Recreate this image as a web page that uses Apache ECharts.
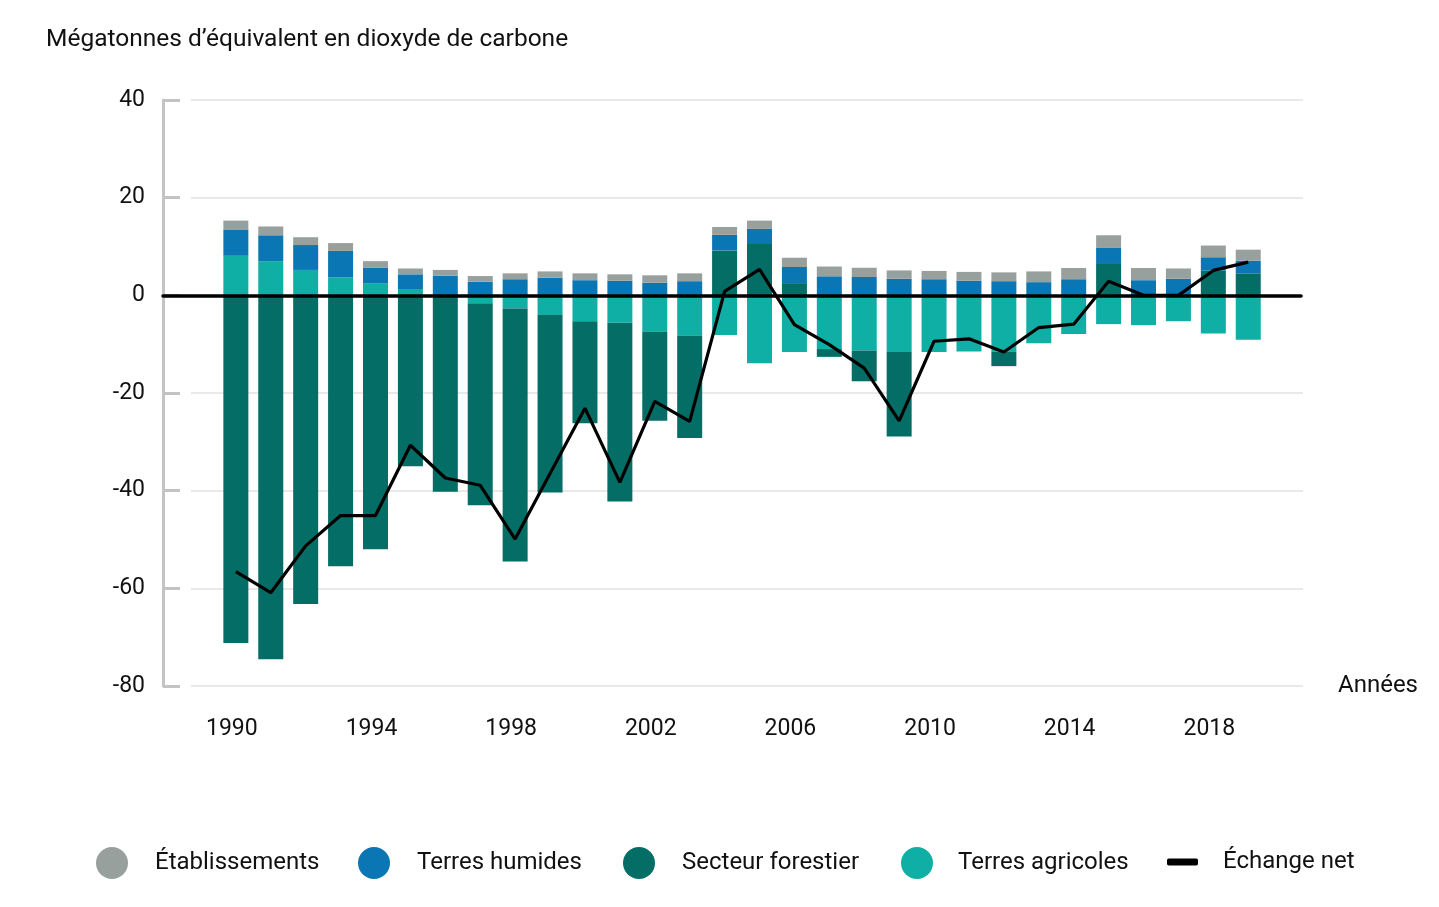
<!DOCTYPE html>
<html><head><meta charset="utf-8">
<script src="https://cdn.jsdelivr.net/npm/echarts@6/dist/echarts.min.js"></script>
<style>html,body{margin:0;padding:0;background:#fff}#c{width:1439px;height:907px}</style>
</head><body><div id="c"></div>
<script>
const years = ['1990','1991','1992','1993','1994','1995','1996','1997','1998','1999','2000','2001','2002','2003','2004','2005','2006','2007','2008','2009','2010','2011','2012','2013','2014','2015','2016','2017','2018','2019'];
const agri   = [8.1,7.0,5.2,3.7,2.4,1.3,0,-1.6,-2.7,-4.0,-5.3,-5.6,-7.4,-8.2,-8.1,-13.9,-11.6,-11.0,-11.3,-11.6,-11.6,-11.5,-11.5,-9.8,-7.9,-5.9,-6.1,-5.3,-7.8,-9.1];
const forest = [-71.2,-74.5,-63.2,-55.5,-52.0,-35.0,-40.2,-41.4,-51.8,-36.4,-20.9,-36.6,-18.3,-21.0,9.2,10.5,2.5,-1.6,-6.3,-17.3,0,0,-3.0,0,0,6.6,0,0,5.1,4.5];
const wet    = [5.4,5.3,5.1,5.4,3.3,3.0,4.0,2.8,3.3,3.6,3.1,3.0,2.6,2.9,3.2,3.1,3.3,3.9,3.75,3.4,3.3,3.0,2.9,2.7,3.3,3.1,3.1,3.4,2.7,2.6];
const settle = [1.8,1.8,1.6,1.6,1.3,1.2,1.2,1.15,1.2,1.3,1.4,1.3,1.5,1.6,1.6,1.7,1.9,2.0,1.9,1.7,1.7,1.8,1.8,2.2,2.3,2.6,2.5,2.1,2.4,2.25];
const net    = [-56.6,-60.9,-51.3,-45.1,-45.1,-30.7,-37.4,-38.9,-49.9,-36.5,-23.1,-38.3,-21.7,-25.8,0.8,5.3,-6.0,-10.1,-14.9,-25.7,-9.4,-8.9,-11.6,-6.6,-5.9,2.9,0,0,5.1,6.8];
const yTicks = {min:-80, max:40, interval:20};

const FONT = 'Roboto';
const TXT = '#111';
const COL = {settle:'#98a09d', wet:'#0a76b3', forest:'#036d66', agri:'#10afa6', net:'#000'};
const NAMES = {settle:'Établissements', wet:'Terres humides', forest:'Secteur forestier', agri:'Terres agricoles', net:'Échange net'};

const chart = echarts.init(document.getElementById('c'));
const gTop = 100, gBottom = 221;
function legend(name, left, icon, w, h, pad){
  return {data:[name], left:left, top: 842, icon:icon, itemWidth:w, itemHeight:h, selectedMode:false,
    textStyle:{fontFamily:FONT, fontSize:24, color:TXT, padding:[0,0,0,pad], lineHeight:30}};
}
chart.setOption({
  animation:false,
  title:{text:'Mégatonnes d’équivalent en dioxyde de carbone', left:41, top:22,
    textStyle:{fontFamily:FONT, fontSize:24.5, fontWeight:'normal', color:TXT}},
  legend:[
    legend(NAMES.settle, 91, 'circle', 32, 32, 22),
    legend(NAMES.wet, 353, 'circle', 32, 32, 22),
    legend(NAMES.forest, 618, 'circle', 32, 32, 22),
    legend(NAMES.agri, 896, 'circle', 32, 32, 20),
    legend(NAMES.net, 1162, 'roundRect', 31, 7, 20)
  ],
  grid:[
    {left:163, right:138, top:gTop, bottom:gBottom},
    {left:191, right:136, top:gTop, bottom:gBottom},
    {left:218.4, right:173.3, top:gTop, bottom:gBottom}
  ],
  xAxis:[
    {gridIndex:0, type:'value', min:0, max:1, z:5,
      axisLine:{show:true, onZero:true, lineStyle:{color:'#000', width:3.5}},
      axisTick:{show:false}, axisLabel:{show:false}, splitLine:{show:false}},
    {gridIndex:1, type:'value', min:0, max:1, name:'Années', nameLocation:'end', nameGap:35,
      nameTextStyle:{fontFamily:FONT, fontSize:24, color:TXT, padding:[6,0,0,0]},
      axisLine:{show:false, onZero:false}, axisTick:{show:false}, axisLabel:{show:false}, splitLine:{show:false}},
    {gridIndex:2, type:'category', data:years, boundaryGap:true,
      axisLine:{show:false, onZero:false}, axisTick:{show:false},
      axisLabel:{interval:3, margin:32, fontFamily:FONT, fontSize:23, color:TXT, padding:[0,8,0,0]}}
  ],
  yAxis:[
    {gridIndex:0, type:'value', min:yTicks.min, max:yTicks.max, interval:yTicks.interval,
      axisLine:{show:true, lineStyle:{color:'#c3c3c3', width:3}},
      axisTick:{show:true, inside:true, length:17, lineStyle:{color:'#c3c3c3', width:3}},
      axisLabel:{margin:18, fontFamily:FONT, fontSize:23, color:TXT, padding:[4,0,0,0]},
      splitLine:{show:false}},
    {gridIndex:1, type:'value', min:yTicks.min, max:yTicks.max, interval:yTicks.interval,
      axisLine:{show:false}, axisTick:{show:false}, axisLabel:{show:false},
      splitLine:{show:true, lineStyle:{color:'#e2e2e2', width:1.5}}},
    {gridIndex:2, type:'value', min:yTicks.min, max:yTicks.max, interval:yTicks.interval, show:false}
  ],
  series:[
    {name:NAMES.agri, type:'bar', stack:'t', xAxisIndex:2, yAxisIndex:2, data:agri, barWidth:25, itemStyle:{color:COL.agri}},
    {name:NAMES.forest, type:'bar', stack:'t', xAxisIndex:2, yAxisIndex:2, data:forest, barWidth:25, itemStyle:{color:COL.forest}},
    {name:NAMES.wet, type:'bar', stack:'t', xAxisIndex:2, yAxisIndex:2, data:wet, barWidth:25, itemStyle:{color:COL.wet}},
    {name:NAMES.settle, type:'bar', stack:'t', xAxisIndex:2, yAxisIndex:2, data:settle, barWidth:25, itemStyle:{color:COL.settle}},
    {name:NAMES.net, type:'line', xAxisIndex:2, yAxisIndex:2, data:net, symbol:'none', z:6,
      lineStyle:{color:COL.net, width:3.2}, itemStyle:{color:COL.net}}
  ]
});
</script></body></html>
